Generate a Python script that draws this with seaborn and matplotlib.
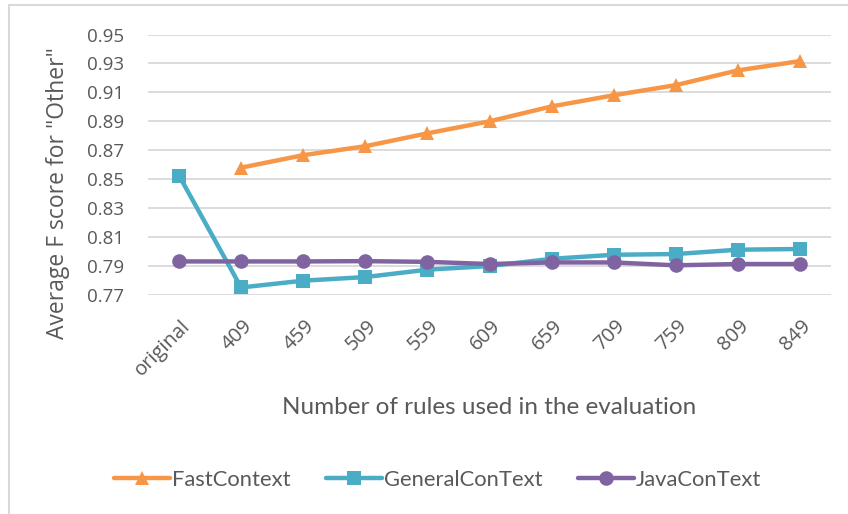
import numpy as np
import pandas as pd
import matplotlib
matplotlib.use("Agg")
import matplotlib.pyplot as plt
import matplotlib.transforms as mtransforms
import seaborn as sns

# valores
rules = ["original", "409", "459", "509", "559", "609", "659", "709", "759", "809", "849"]
fast_context = [np.nan, 0.858, 0.8666, 0.8728, 0.8817, 0.8900, 0.9003, 0.9080, 0.9150, 0.9252, 0.9316]
general_context = [0.8525, 0.7752, 0.7799, 0.7824, 0.7875, 0.7900, 0.7950, 0.7978, 0.7983, 0.8013, 0.8018]
java_context = [0.7932, 0.7932, 0.7932, 0.7934, 0.7929, 0.7914, 0.7925, 0.7925, 0.7905, 0.7914, 0.7914]
y_ticks = [0.77, 0.79, 0.81, 0.83, 0.85, 0.87, 0.89, 0.91, 0.93, 0.95]

series = {"FastContext": fast_context, "GeneralConText": general_context, "JavaConText": java_context}
data = pd.concat(
    [pd.DataFrame({"rules": rules, "score": vals, "method": name}) for name, vals in series.items()],
    ignore_index=True,
)

sns.set_theme(style="white")
plt.rcParams["font.family"] = ["Open Sans", "DejaVu Sans"]
text_color = "#595959"

fig = plt.figure(figsize=(8.48, 5.14), dpi=100)
ax = fig.add_axes([148 / 848, 1 - 295 / 514, (831 - 148) / 848, (295 - 34.5) / 514])

palette = {"FastContext": "#F79646", "GeneralConText": "#4BACC6", "JavaConText": "#8064A2"}
markers = {"FastContext": "^", "GeneralConText": "s", "JavaConText": "o"}
sns.lineplot(
    data=data, x="rules", y="score", hue="method", style="method",
    palette=palette, markers=markers, dashes=False, sort=False,
    linewidth=3.2, markersize=10.5, markeredgewidth=0, ax=ax,
)

ax.set_xlim(-0.5, len(rules) - 0.5)
ax.set_ylim(0.77, 0.95)
ax.set_yticks(y_ticks)
ax.set_yticklabels([f"{t:.2f}" for t in y_ticks])
ax.yaxis.grid(True, color="#D9D9D9", linewidth=1.3)
ax.xaxis.grid(False)
for s in ax.spines.values():
    s.set_visible(False)
ax.tick_params(axis="y", length=0, pad=17, labelsize=13.5, labelcolor=text_color)
ax.tick_params(axis="x", length=0, pad=15, labelsize=14.5, labelcolor=text_color)
shift = mtransforms.ScaledTranslation(1 / 100, 0, fig.dpi_scale_trans)
for lbl in ax.get_xticklabels():
    lbl.set_rotation(45)
    lbl.set_ha("right")
    lbl.set_va("top")
    lbl.set_rotation_mode("anchor")
    lbl.set_transform(lbl.get_transform() + shift)

ax.set_ylabel('Average F score for "Other"', fontsize=16.5, color=text_color)
ax.yaxis.set_label_coords(-(148 - 70) / 683, 0.39)
ax.set_xlabel("Number of rules used in the evaluation", fontsize=17.5, color=text_color,
              family=["Lato", "DejaVu Sans"])
ax.xaxis.set_label_coords((489 - 148) / 683, -(407 - 295) / 260.5)
ax.xaxis.label.set_va("center")

handles, labels = ax.get_legend_handles_labels()
ax.legend_.remove()
fig.legend(handles, labels, loc="center", bbox_to_anchor=(438 / 848, 1 - 480 / 514), ncol=3,
           frameon=False, handlelength=2.55, columnspacing=1.6, handletextpad=0.1,
           prop={"family": ["Lato", "DejaVu Sans"], "size": 15.8}, labelcolor=text_color)

# borde del area del grafico
fig.patches.append(plt.Rectangle((9 / 848, -0.05), 1.2, 1 - 5 / 514 + 0.05, transform=fig.transFigure,
                                 fill=False, edgecolor="#D9D9D9", linewidth=1.5))

fig.savefig("out.png", dpi=100)
